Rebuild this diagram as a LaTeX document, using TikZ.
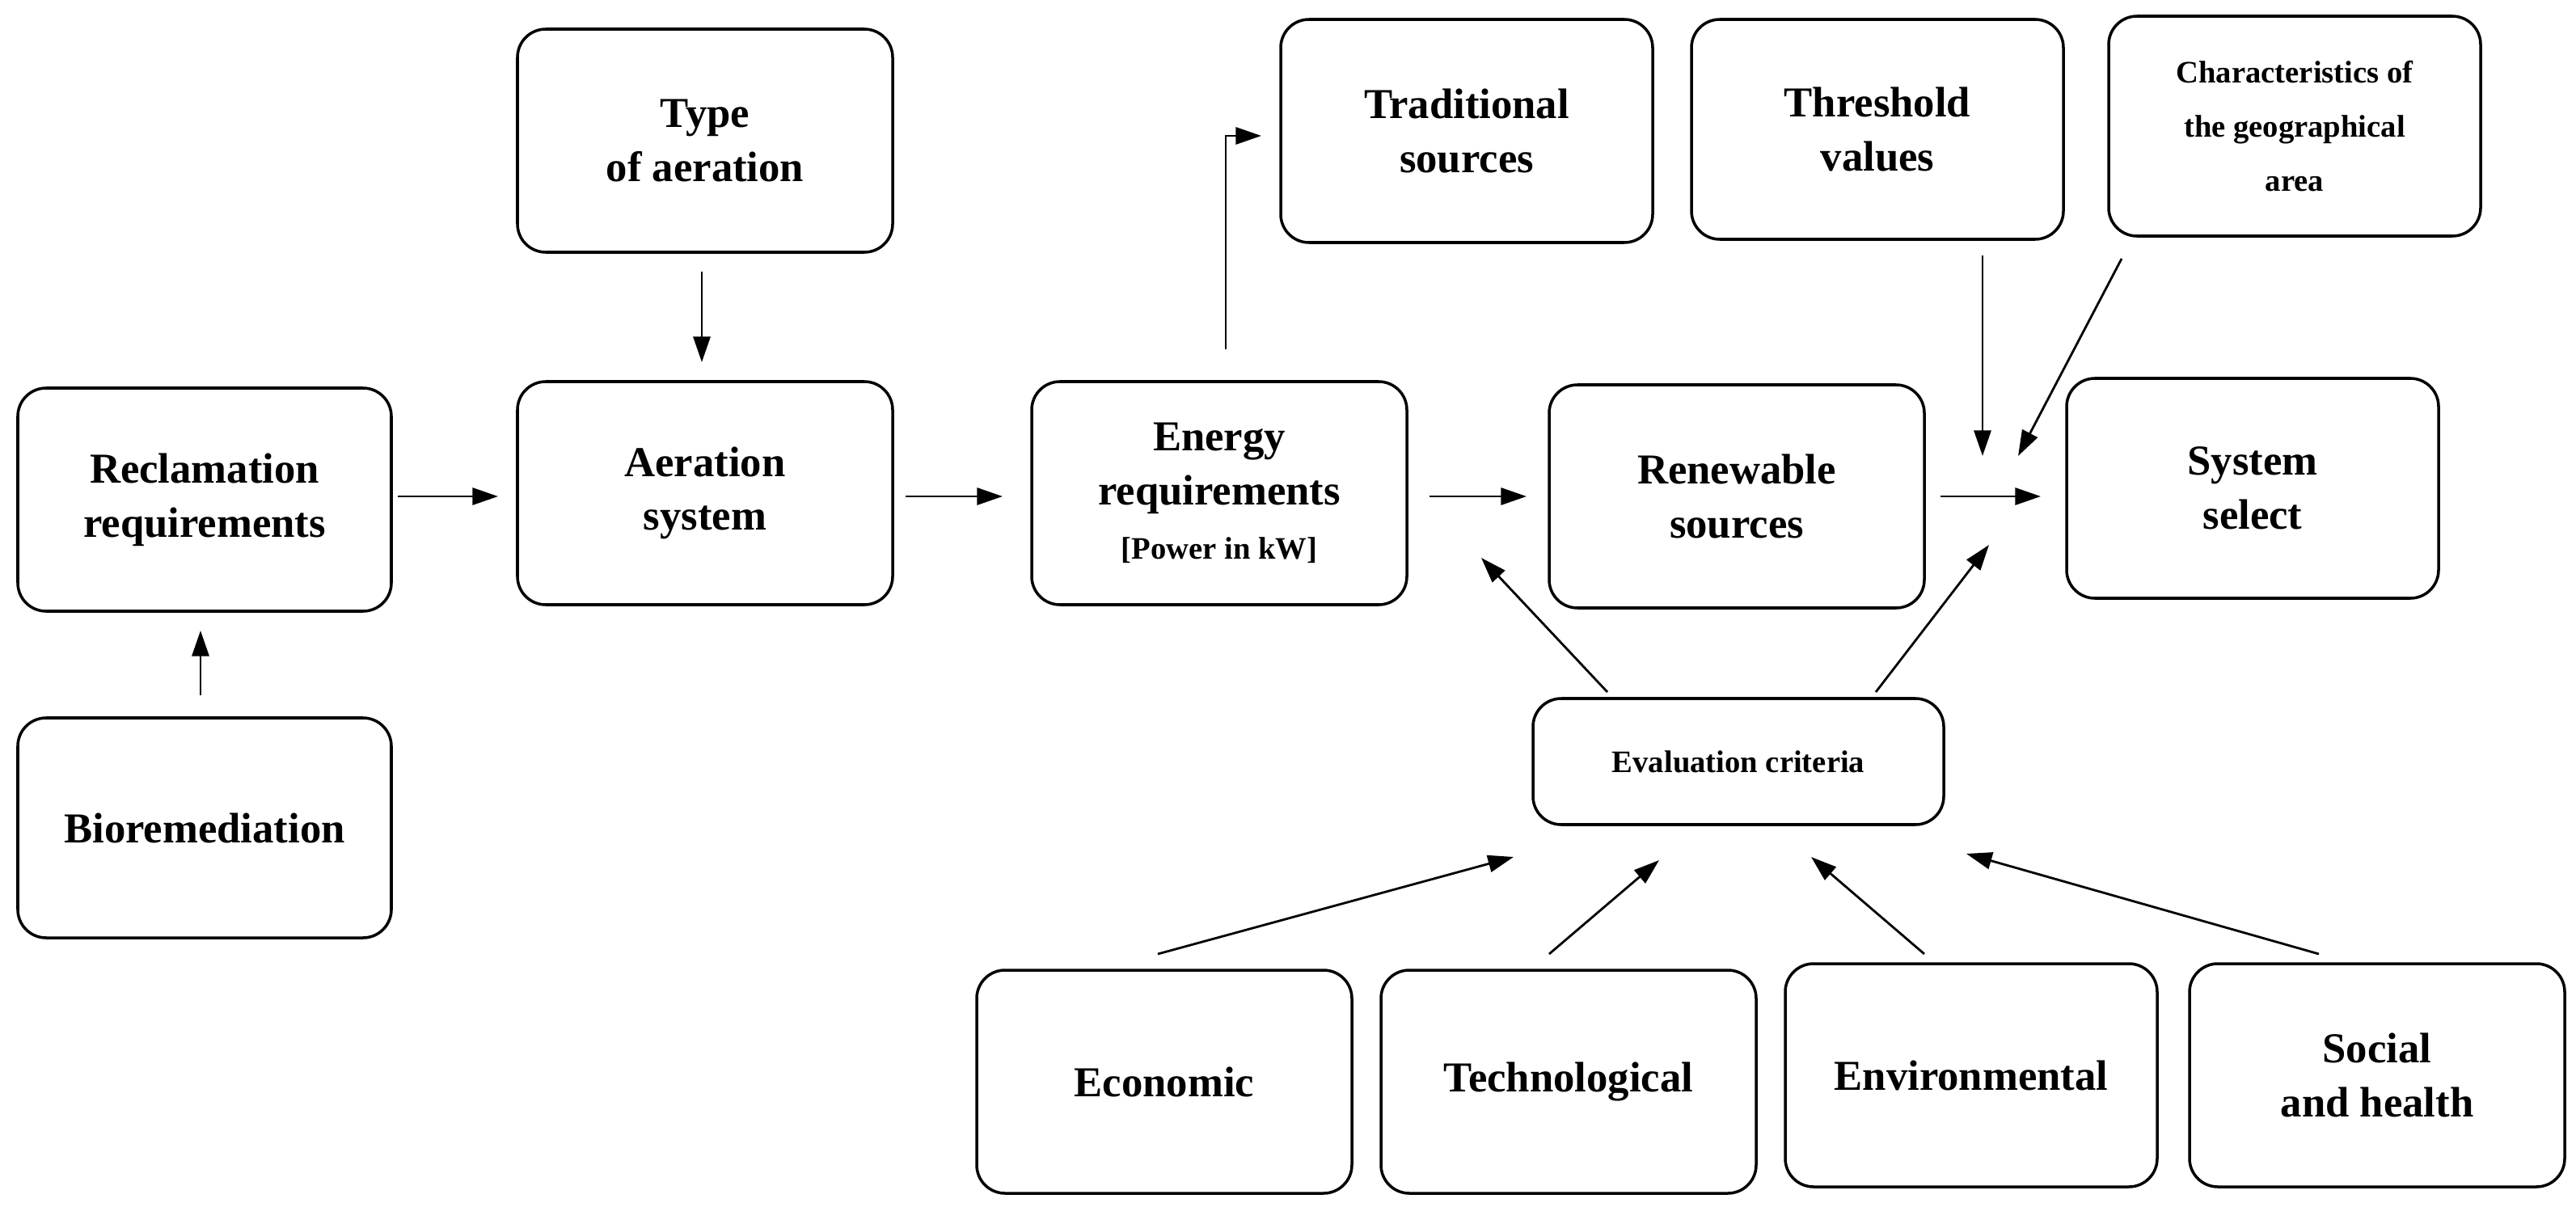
\documentclass[tikz,border=0pt]{standalone}
\usepackage{fontspec}
\setmainfont{Liberation Serif}
\usetikzlibrary{arrows.meta}
\begin{document}
\begin{tikzpicture}[x=0.02cm,y=-0.02cm,
  box/.style={draw,line width=1pt,rounded corners=0.35cm,align=center,font=\bfseries\fontsize{15}{19}\selectfont},
  arr/.style={-{Triangle[length=9pt,width=6pt]},line width=0.8pt}]
\useasboundingbox (0,0) rectangle (1593,757);
\newcommand{\bx}[6]{\node[box,minimum width=#4*0.02cm-#2*0.02cm,minimum height=#5*0.02cm-#3*0.02cm] (#1) at ({(#2+#4)/2},{(#3+#5)/2}) {#6};}
\bx{recl}{11}{240}{242}{378}{Reclamation\\requirements}
\bx{bio}{11}{444}{242}{580}{Bioremediation}
\bx{type}{320}{18}{552}{156}{Type\\of aeration}
\bx{aer}{320}{236}{552}{374}{Aeration\\system}
\bx{ener}{638}{236}{870}{374}{Energy\\requirements\\{\fontsize{11}{14}\selectfont[Power in kW]}}
\bx{trad}{792}{12}{1022}{150}{Traditional\\sources}
\bx{thr}{1046}{12}{1276}{148}{Threshold\\values}
\bx{char}{1304}{10}{1534}{146}{\fontsize{11}{14}\selectfont Characteristics of\\\fontsize{11}{14}\selectfont the geographical\\\fontsize{11}{14}\selectfont area}
\bx{ren}{958}{238}{1190}{376}{Renewable\\sources}
\bx{sys}{1278}{234}{1508}{370}{System\\select}
\bx{eval}{948}{432}{1202}{510}{\fontsize{11}{14}\selectfont Evaluation criteria}
\bx{eco}{604}{600}{836}{738}{Economic}
\bx{tech}{854}{600}{1086}{738}{Technological}
\bx{env}{1104}{596}{1334}{734}{Environmental}
\bx{soc}{1354}{596}{1586}{734}{Social\\and health}
\coordinate (a1) at (124,430); \coordinate (b1) at (124,390);
\coordinate (a2) at (246,307); \coordinate (b2) at (308,307);
\coordinate (a3) at (434,168); \coordinate (b3) at (434,224);
\coordinate (a4) at (560,307); \coordinate (b4) at (620,307);
\coordinate (a5) at (758,216); \coordinate (m5) at (758,84); \coordinate (b5) at (780,84);
\coordinate (a6) at (884,307); \coordinate (b6) at (944,307);
\coordinate (a7) at (1200,307); \coordinate (b7) at (1262,307);
\coordinate (a8) at (1226,158); \coordinate (b8) at (1226,282);
\coordinate (a9) at (1312,160); \coordinate (b9) at (1248,282);
\coordinate (a10) at (994,428); \coordinate (b10) at (916,345);
\coordinate (a11) at (1160,428); \coordinate (b11) at (1230,337);
\coordinate (a12) at (716,590); \coordinate (b12) at (936,530);
\coordinate (a13) at (958,590); \coordinate (b13) at (1026,532);
\coordinate (a14) at (1190,590); \coordinate (b14) at (1120,530);
\coordinate (a15) at (1434,590); \coordinate (b15) at (1216,528);
\foreach \i in {1,2,3,4,6,7,8,9,10,11,12,13,14,15} \draw[arr] (a\i) -- (b\i);
\draw[arr] (a5) -- (m5) -- (b5);
\end{tikzpicture}
\end{document}
